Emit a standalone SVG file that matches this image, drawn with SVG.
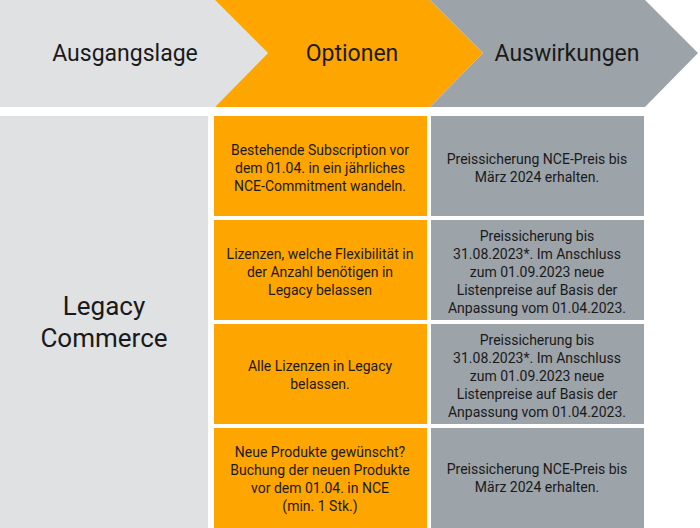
<svg xmlns="http://www.w3.org/2000/svg" width="700" height="528" viewBox="0 0 700 528">
<style>
text{font-family:Roboto,"Liberation Sans",sans-serif;text-anchor:middle;fill:#1a1a1a}
.h{font-size:23px}
.b{font-size:14px}
.l{fill:#e0e1e3}.o{fill:#ffa500}.g{fill:#9ca3a9}
</style>
<rect width="700" height="528" fill="#fff"/>
<g id="h1"><polygon class="l" points="0,0 215,0 268,53 215,107 0,107"/><text class="h" x="125" y="61">Ausgangslage</text></g>
<g id="h2"><polygon class="o" points="215,0 430,0 483,53 430,107 215,107 268,53"/><text class="h" x="352" y="61">Optionen</text></g>
<g id="h3"><polygon class="g" points="430,0 645,0 698,53 645,107 430,107 483,53"/><text class="h" x="567" y="61">Auswirkungen</text></g>
<g id="legacy"><rect class="l" x="0" y="116" width="208" height="412"/><text x="104" y="315" style="font-size:26px">Legacy</text><text x="104" y="347" style="font-size:26px">Commerce</text></g>
<g id="o1"><rect class="o" x="214" y="116" width="213" height="100"/><text class="b" x="320" y="155">Bestehende Subscription vor</text><text class="b" x="320" y="173">dem 01.04. in ein jährliches</text><text class="b" x="320" y="191">NCE-Commitment wandeln.</text></g>
<g id="a1"><rect class="g" x="431" y="116" width="213" height="100"/><text class="b" x="537" y="164">Preissicherung NCE-Preis bis</text><text class="b" x="537" y="182">März 2024 erhalten.</text></g>
<g id="o2"><rect class="o" x="214" y="220" width="213" height="100"/><text class="b" x="320" y="259">Lizenzen, welche Flexibilität in</text><text class="b" x="320" y="277">der Anzahl benötigen in</text><text class="b" x="320" y="295">Legacy belassen</text></g>
<g id="a2"><rect class="g" x="431" y="220" width="213" height="100"/><text class="b" x="537" y="241">Preissicherung bis</text><text class="b" x="537" y="259">31.08.2023*. Im Anschluss</text><text class="b" x="537" y="277">zum 01.09.2023 neue</text><text class="b" x="537" y="295">Listenpreise auf Basis der</text><text class="b" x="537" y="313">Anpassung vom 01.04.2023.</text></g>
<g id="o3"><rect class="o" x="214" y="324" width="213" height="100"/><text class="b" x="320" y="371">Alle Lizenzen in Legacy</text><text class="b" x="320" y="389">belassen.</text></g>
<g id="a3"><rect class="g" x="431" y="324" width="213" height="100"/><text class="b" x="537" y="345">Preissicherung bis</text><text class="b" x="537" y="363">31.08.2023*. Im Anschluss</text><text class="b" x="537" y="381">zum 01.09.2023 neue</text><text class="b" x="537" y="399">Listenpreise auf Basis der</text><text class="b" x="537" y="417">Anpassung vom 01.04.2023.</text></g>
<g id="o4"><rect class="o" x="214" y="428" width="213" height="100"/><text class="b" x="320" y="457">Neue Produkte gewünscht?</text><text class="b" x="320" y="475">Buchung der neuen Produkte</text><text class="b" x="320" y="493">vor dem 01.04. in NCE</text><text class="b" x="320" y="511">(min. 1 Stk.)</text></g>
<g id="a4"><rect class="g" x="431" y="428" width="213" height="100"/><text class="b" x="537" y="474">Preissicherung NCE-Preis bis</text><text class="b" x="537" y="492">März 2024 erhalten.</text></g>
<g id="connectors"/>
</svg>
